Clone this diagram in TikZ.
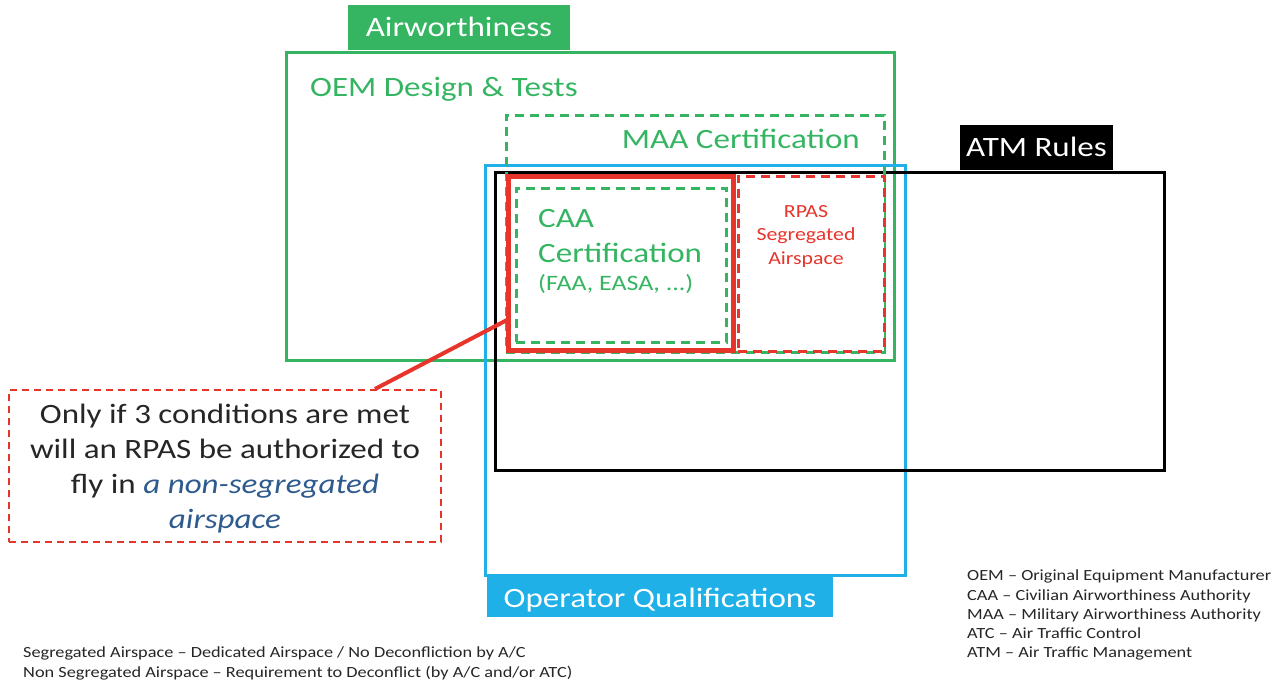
\documentclass[tikz,border=0pt]{standalone}
\usepackage{fontspec}
\setmainfont{Carlito}[FakeStretch=1.18]
\definecolor{gr}{HTML}{35B562}
\definecolor{rd}{HTML}{E8352C}
\definecolor{bl}{HTML}{1EB0E6}
\definecolor{nb}{HTML}{2E5A8E}
\newcommand{\fs}[2]{\fontsize{#1pt}{#2pt}\selectfont}
\tikzset{
  box/.style={draw, rectangle, inner sep=0pt, fill=none},
  tab/.style={rectangle, inner sep=0pt, text=white, font=\fs{28}{34}, text height=20pt, text depth=2pt},
  big/.style={inner sep=0pt, font=\fs{28}{34}, text height=20pt, text depth=2pt},
  dsh/.style={dash pattern=on 9pt off 6pt},
}
\begin{document}
\begin{tikzpicture}[x=1pt,y=-1pt]
\useasboundingbox (0,0) rectangle (1283,683);
% OEM box
\node[box, draw=gr, line width=3pt, minimum width=608pt, minimum height=308pt] (oem) at (590,206) {};
% blue operator box
\node[box, draw=bl, line width=3pt, minimum width=420pt, minimum height=410pt] (op) at (695,370) {};
% black ATM box
\node[box, draw=black, line width=3pt, minimum width=669pt, minimum height=298pt] (atm) at (829.5,321) {};
% MAA dashed
\node[box, draw=gr, line width=3pt, dsh, minimum width=378pt, minimum height=237pt] (maa) at (695,233.5) {};
% red segregated
\node[box, draw=rd, line width=3pt, dsh, fill=white, minimum width=146pt, minimum height=175pt] (rpas) at (811,263.5) {};
% red solid
\node[box, draw=rd, line width=5pt, fill=white, minimum width=225pt, minimum height=174pt] (red) at (620.5,263) {};
% CAA dashed
\node[box, draw=gr, line width=3pt, dsh, minimum width=210pt, minimum height=154pt] (caa) at (621,265) {};
% tabs
\node[tab, fill=gr, minimum width=222pt, minimum height=45pt] (airw) at (459,27.5) {Airworthiness};
\node[tab, fill=black, minimum width=153pt, minimum height=45pt] (atmt) at (1036.5,147.5) {ATM Rules};
\node[tab, fill=bl, minimum width=346pt, minimum height=42pt, text height=22pt, text depth=0pt] (opt) at (660,596) {Operator Qualifications};
% texts
\node[big, anchor=west, text=gr] (oemt) at (310,87) {OEM Design \& Tests};
\node[big, anchor=east, text=gr] (maat) at (860,139) {MAA Certification};
\node[big, anchor=west, text=gr] (caa1) at (538,218) {CAA};
\node[big, anchor=west, text=gr] (caa2) at (538,253) {Certification};
\node[anchor=west, text=gr, inner sep=0pt, font=\fs{22}{26}] (caa3) at (538,284) {(FAA, EASA, ...)};
\node[text=rd, align=center, inner sep=0pt, font=\fs{18.5}{23.5}] (rpast) at (806,236) {RPAS\\Segregated\\Airspace};
% note
\node[box, draw=rd, line width=2pt, dash pattern=on 7pt off 5pt, minimum width=432pt, minimum height=152pt] (note) at (225,466) {};
\node[align=center, inner sep=0pt, text=black!85, font=\fs{28}{35}] (notet) at (225,468.5) {Only if 3 conditions are met\\will an RPAS be authorized to\\fly in \textcolor{nb}{\itshape a non-segregated}\\\textcolor{nb}{\itshape airspace}};
\coordinate (la) at (375,389);
\coordinate (lb) at (507,320);
\draw[rd, line width=4pt] (la) -- (lb);
% legends
\node[anchor=north west, align=left, inner sep=0pt, text=black!85, font=\fs{15.5}{19.2}] (leg1) at (967,570) {OEM – Original Equipment Manufacturer\\CAA – Civilian Airworthiness Authority\\MAA – Military Airworthiness Authority\\ATC – Air Traffic Control\\ATM – Air Traffic Management};
\node[anchor=north west, align=left, inner sep=0pt, text=black!85, font=\fs{15.5}{20}] (leg2) at (23,647) {Segregated Airspace – Dedicated Airspace / No Deconfliction by A/C\\Non Segregated Airspace – Requirement to Deconflict (by A/C and/or ATC)};
\end{tikzpicture}
\end{document}
